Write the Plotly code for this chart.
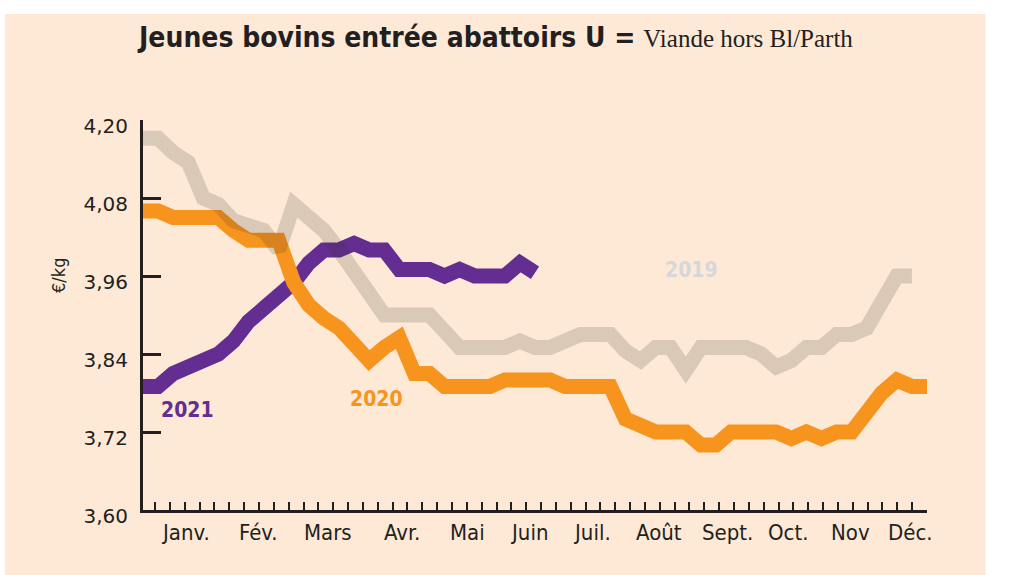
import plotly.graph_objects as go
import numpy as np

# ---- data (weekly prices, €/kg) ----
prix_2019 = [4.172, 4.172, 4.15, 4.135, 4.08, 4.07, 4.045, 4.04, 4.03, 4.00,
             4.07, 4.05, 4.03, 4.00, 3.965, 3.93, 3.90, 3.90, 3.90, 3.90,
             3.875, 3.85, 3.85, 3.85, 3.85, 3.86, 3.85, 3.85, 3.86, 3.87,
             3.87, 3.87, 3.845, 3.83, 3.85, 3.85, 3.815, 3.85, 3.85, 3.85,
             3.85, 3.84, 3.82, 3.83, 3.85, 3.85, 3.87, 3.87, 3.88, 3.92,
             3.96, 3.96]
prix_2020 = [4.06, 4.06, 4.05, 4.05, 4.05, 4.05, 4.03, 4.015, 4.015, 4.015,
             3.95, 3.915, 3.895, 3.88, 3.855, 3.83, 3.85, 3.865, 3.81, 3.81,
             3.79, 3.79, 3.79, 3.79, 3.80, 3.80, 3.80, 3.80, 3.79, 3.79,
             3.79, 3.79, 3.74, 3.73, 3.72, 3.72, 3.72, 3.70, 3.70, 3.72,
             3.72, 3.72, 3.72, 3.71, 3.72, 3.71, 3.72, 3.72, 3.75, 3.78,
             3.80, 3.79, 3.79]
prix_2021 = [3.79, 3.79, 3.81, 3.82, 3.83, 3.84, 3.86, 3.89, 3.91, 3.93,
             3.95, 3.98, 4.00, 4.00, 4.01, 4.00, 4.00, 3.97, 3.97, 3.97,
             3.96, 3.97, 3.96, 3.96, 3.96, 3.98, 3.965]
semaines_2019 = list(range(len(prix_2019)))
semaines_2020 = list(range(len(prix_2020)))
semaines_2021 = list(range(len(prix_2021)))

mois = ["Janv.", "Fév.", "Mars", "Avr.", "Mai", "Juin", "Juil.", "Août",
        "Sept.", "Oct.", "Nov", "Déc."]
mois_pos = [2.79, 7.64, 12.28, 17.18, 21.5, 25.6, 29.8, 34.2, 38.8, 42.8, 46.9, 50.9]
y_ticks = [3.60, 3.72, 3.84, 3.96, 4.08, 4.20]

# ---- layout geometry ----
W, H = 1009, 575
L, R, T, B = 143, 926.6, 120, 510


def px_x(p):
    return (p - L) / (R - L)


def px_y(p):
    return (B - p) / (B - T)


FONT = "DejaVu Sans Condensed, DejaVu Sans, sans-serif"
FONT_TICK = "DejaVu Sans, sans-serif"
DARK = "#231f20"
BG = "#fde9d6"

fig = go.Figure()
fig.add_trace(go.Scatter(x=semaines_2021, y=prix_2021, mode="lines",
                         line=dict(color="#642d91", width=15), hoverinfo="skip"))
fig.add_trace(go.Scatter(x=semaines_2020, y=prix_2020, mode="lines",
                         line=dict(color="#f7941d", width=15), hoverinfo="skip"))
fig.add_trace(go.Scatter(x=semaines_2019, y=prix_2019, mode="lines",
                         line=dict(color="rgba(69,56,43,0.18)", width=15), hoverinfo="skip"))

annotations = []
for m, p in zip(mois, mois_pos):
    annotations.append(dict(x=p, xref="x", y=px_y(532), yref="paper", text=m,
                            showarrow=False, xanchor="center", yanchor="middle",
                            font=dict(family=FONT, size=22, color=DARK)))
annotations += [
    dict(x=2.92, y=3.754, xref="x", yref="y", text="<b>2021</b>", showarrow=False,
         xanchor="center", yanchor="middle",
         font=dict(family=FONT, size=21, color="#642d91")),
    dict(x=15.5, y=3.771, xref="x", yref="y", text="<b>2020</b>", showarrow=False,
         xanchor="center", yanchor="middle",
         font=dict(family=FONT, size=21, color="#f7941d")),
    dict(x=36.4, y=3.969, xref="x", yref="y", text="<b>2019</b>", showarrow=False,
         xanchor="center", yanchor="middle",
         font=dict(family=FONT, size=21, color="#d5d7da")),
    dict(x=px_x(58), y=px_y(275), xref="paper", yref="paper", text="€/kg",
         textangle=-90, showarrow=False, xanchor="center", yanchor="middle",
         font=dict(family=FONT, size=18, color=DARK)),
    dict(x=px_x(495), y=px_y(37), xref="paper", yref="paper",
         text="<b>Jeunes bovins entrée abattoirs U =</b> "
              "<span style='font-family:Liberation Serif, serif;font-size:25px'>"
              "Viande hors Bl/Parth</span>",
         showarrow=False, xanchor="center", yanchor="middle",
         font=dict(family=FONT, size=28, color=DARK)),
]

fig.update_layout(
    width=W, height=H,
    margin=dict(l=L, r=W - R, t=T, b=H - B, pad=0),
    paper_bgcolor="white",
    plot_bgcolor="rgba(0,0,0,0)",
    showlegend=False,
    hovermode=False,
    separators=",.",
    shapes=[dict(type="rect", xref="paper", yref="paper", layer="below",
                 x0=px_x(5), x1=px_x(985), y0=px_y(575), y1=px_y(14),
                 fillcolor=BG, line=dict(width=0))],
    annotations=annotations,
    xaxis=dict(range=[0, 52], showgrid=False, zeroline=False,
               showline=True, linecolor=DARK, linewidth=3,
               ticks="inside", ticklen=8, tickwidth=2, tickcolor=DARK,
               tickvals=list(np.linspace(0.8, 52, 53)), showticklabels=False),
    yaxis=dict(range=[3.60, 4.20], showgrid=False, zeroline=False,
               showline=True, linecolor=DARK, linewidth=3,
               ticks="inside", ticklen=18, tickwidth=3, tickcolor=DARK,
               tickvals=y_ticks, tickformat=".2f", ticklabelstandoff=8,
               ticklabelshift=6,
               tickfont=dict(family=FONT_TICK, size=20, color=DARK)),
)

fig.write_html("out.html", config={"displayModeBar": False})
